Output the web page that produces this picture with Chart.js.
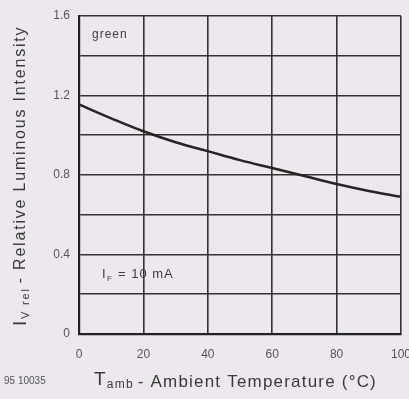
<!DOCTYPE html>
<html>
<head>
<meta charset="utf-8">
<script src="https://cdn.jsdelivr.net/npm/chart.js@4.4.1/dist/chart.umd.min.js"></script>
<style>
  html, body { margin: 0; padding: 0; background: #ece8ee; }
  #wrap { width: 409px; height: 399px; position: relative; overflow: hidden; }
</style>
</head>
<body>
<div id="wrap"><canvas id="c" width="409" height="399"></canvas></div>
<script>
// Ambient temperature (°C) and relative luminous intensity, green LED at IF = 10 mA
const temperatures = [0, 10, 20, 30, 40, 50, 60, 70, 80, 90, 100];
const relIntensity = [1.155, 1.085, 1.02, 0.965, 0.92, 0.875, 0.835, 0.795, 0.755, 0.72, 0.69];
const xTicks = [0, 20, 40, 60, 80, 100];
const yTickLabels = { '1.6': '1.6', '1.2': '1.2', '0.8': '0.8', '0.4': '0.4', '0': '0' };

const FONT = '"Liberation Sans", Arial, sans-serif';

const textPlugin = {
  id: 'datasheetText',
  afterDraw(chart) {
    const ctx = chart.ctx;
    const ys = chart.scales.y;
    ctx.save();
    ctx.fillStyle = '#3c3c3c';
    ctx.textBaseline = 'middle';
    ctx.textAlign = 'left';

    // labels inside the grid
    ctx.letterSpacing = '1px';
    ctx.font = '12px ' + FONT;
    ctx.fillText('green', 92, ys.getPixelForValue(1.5) - 1);

    const iy = ys.getPixelForValue(0.3);
    ctx.font = '13px ' + FONT;
    ctx.fillText('I', 102, iy);
    ctx.font = '8px ' + FONT;
    ctx.fillText('F', 107, iy + 4);
    ctx.font = '13px ' + FONT;
    ctx.fillText('= 10 mA', 118, iy);

    // drawing number
    ctx.letterSpacing = '0px';
    ctx.font = '10px ' + FONT;
    ctx.fillStyle = '#555';
    ctx.fillText('95 10035', 4, 381);

    // x-axis title
    ctx.fillStyle = '#3a3a3a';
    ctx.letterSpacing = '1.2px';
    let x = 94;
    ctx.font = '19px ' + FONT;
    ctx.fillText('T', x, 380);
    x += ctx.measureText('T').width;
    ctx.font = '12px ' + FONT;
    ctx.fillText('amb', x, 385);
    x += ctx.measureText('amb').width + 4;
    ctx.font = '17px ' + FONT;
    ctx.fillText('- Ambient Temperature (°C)', x, 382);

    // y-axis title (rotated)
    ctx.translate(21, 326);
    ctx.rotate(-Math.PI / 2);
    let y = 0;
    ctx.letterSpacing = '1.8px';
    ctx.font = '19px ' + FONT;
    ctx.fillText('I', y, 0);
    y += ctx.measureText('I').width;
    ctx.font = '11px ' + FONT;
    ctx.fillText('V rel', y, 5);
    y += ctx.measureText('V rel').width + 4;
    ctx.font = '16px ' + FONT;
    ctx.fillText('- Relative Luminous Intensity', y, 0);
    ctx.restore();
  }
};

new Chart(document.getElementById('c'), {
  type: 'line',
  data: {
    labels: temperatures,
    datasets: [{
      data: temperatures.map((t, i) => ({ x: t, y: relIntensity[i] })),
      borderColor: '#2a2224',
      borderWidth: 2.5,
      pointRadius: 0,
      tension: 0.4,
      fill: false
    }]
  },
  options: {
    responsive: false,
    animation: false,
    layout: { padding: { top: 16, right: 8, left: 0, bottom: 0 } },
    plugins: { legend: { display: false }, tooltip: { enabled: false } },
    scales: {
      x: {
        type: 'linear',
        min: 0, max: 100,
        afterBuildTicks(scale) { scale.ticks = xTicks.map(v => ({ value: v })); },
        afterFit(scale) { scale.height = 65; scale.paddingRight = 0; scale.paddingLeft = 0; },
        grid: { color: '#333', lineWidth: 1.6, tickLength: 0, drawTicks: false },
        border: { color: '#222', width: 2.2 },
        ticks: { color: '#555', font: { size: 12, family: FONT }, padding: 13, maxRotation: 0 }
      },
      y: {
        min: 0, max: 1.6,
        afterFit(scale) { scale.width = 79; scale.paddingTop = 0; scale.paddingBottom = 0; },
        ticks: {
          stepSize: 0.2,
          color: '#555',
          font: { size: 12, family: FONT },
          padding: 9,
          callback(v) {
            const k = String(Math.round(v * 10) / 10);
            return yTickLabels[k] !== undefined ? yTickLabels[k] : '';
          }
        },
        grid: { color: '#333', lineWidth: 1.6, tickLength: 0, drawTicks: false },
        border: { color: '#222', width: 2.2 }
      }
    }
  },
  plugins: [textPlugin]
});
</script>
</body>
</html>
